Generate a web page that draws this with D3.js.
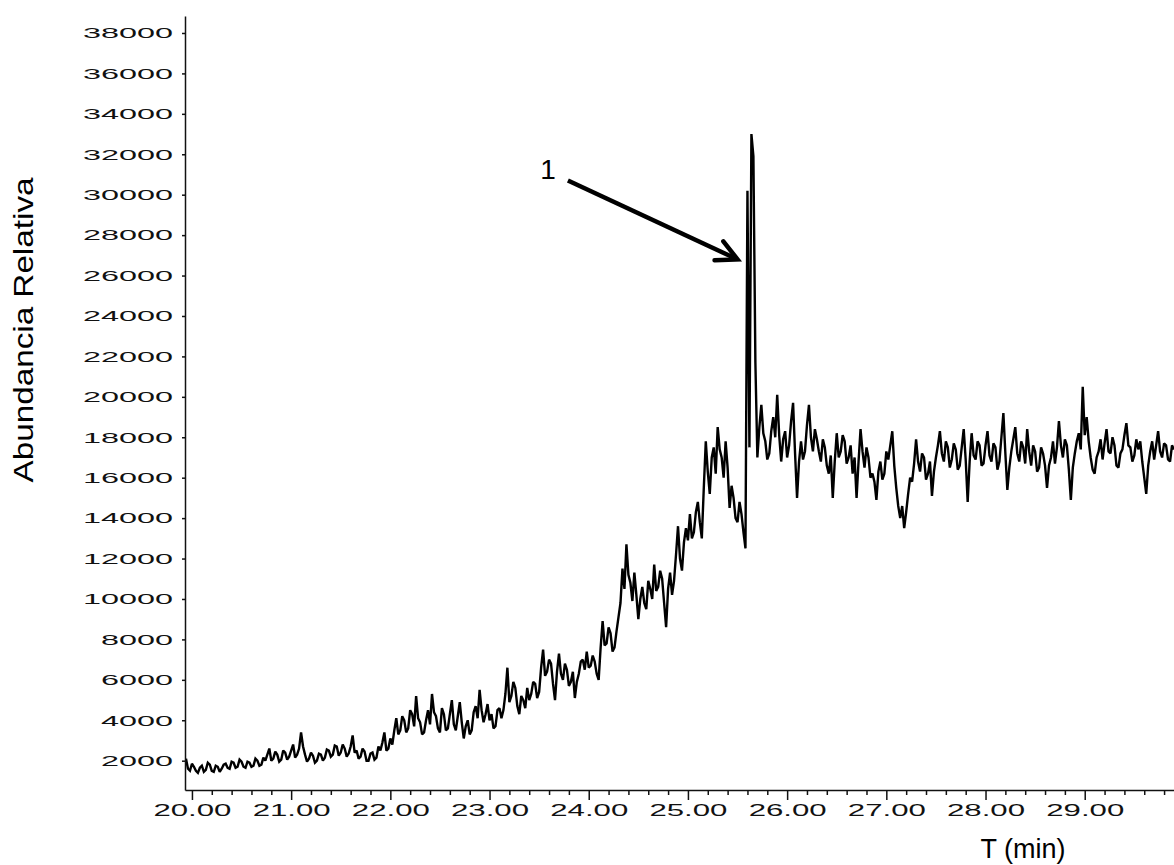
<!DOCTYPE html>
<html><head><meta charset="utf-8">
<script src="https://cdn.jsdelivr.net/npm/d3@7"></script>
<style>body{margin:0;background:#fff} svg{display:block}</style>
</head><body><svg id="c" width="1174" height="865"></svg>
<script>
// Acquisition: first scan time (min) and scan interval (min)
const scanStart = 19.94;
const scanInterval = 0.02;
// Abundance, one value per scan
const abundance = [
  2100,1600,1500,1850,1700,1500,1400,1650,1750,1450,1550,1900,1800,1500,1450,1750,1700,1450,1600,1800,
  1850,1650,1600,1950,1900,1650,1700,2050,1950,1700,1650,1950,1900,1700,1750,2100,2000,1750,1800,2150,
  2000,2300,2600,2000,2100,2450,2300,1950,2050,2500,2400,2050,2200,2500,2800,2150,2300,2600,3400,2700,
  2300,1950,2100,2400,2250,1900,2000,2350,2300,2000,2150,2550,2500,2200,2300,2750,2700,2250,2400,2800,
  2600,2200,2350,2700,3250,2400,2500,2100,2200,2600,2450,2000,2000,2350,2400,2050,2150,2700,2500,2900,
  3400,2500,2600,3100,2800,3500,4100,3300,3500,4200,4000,3400,3600,4500,4300,3700,5200,4100,3900,3300,
  3400,4000,4500,3800,5300,4400,4200,3600,3400,4600,4300,3500,3600,4300,5000,3800,3500,4200,4900,3900,
  3100,3700,4000,3300,3500,4400,4700,4100,5500,4500,3900,4300,4800,4000,4300,3600,3700,4500,4600,4100,
  4500,5300,6600,4900,5200,5900,5600,4700,4300,5200,5000,4600,5600,5000,5300,5900,5800,5100,5400,6600,
  7500,6200,6400,7000,6800,5800,5000,6400,7300,6300,6000,6800,6500,5700,5900,6400,5100,5900,6300,6900,
  7000,6500,7400,6600,6700,7200,6900,6300,6000,7600,8900,7700,7800,8600,8300,7400,7600,8400,9100,9800,
  11500,10500,12700,11200,10800,9900,11300,10200,9000,10000,10600,9800,9500,10900,10500,10000,11700,10400,10600,11400,
  11000,9800,8600,10500,11300,10200,10900,12200,13600,12000,11400,12800,13500,12900,14200,13000,13300,14300,14800,13800,
  13000,15500,17800,16300,15200,17000,17500,16200,18500,17400,17000,16000,17800,16500,14500,15600,15000,14000,13800,14800,
  14200,13300,12500,30200,17500,33000,31900,21700,17000,18500,19600,18200,17800,16900,17200,18300,19000,18000,20100,18100,
  16800,17900,18300,17000,17600,18800,19700,17200,15000,16800,17800,16900,17300,18600,19600,18000,17300,18400,17900,17300,
  16800,17900,17500,16600,16200,17100,15000,16800,18200,17000,17300,18100,17800,16700,17000,17600,16200,17000,15000,16800,
  18400,17300,16500,17500,17000,16000,16200,15800,14900,16300,16800,15900,16200,17300,16900,17600,18300,16600,15500,14600,
  14000,14600,13500,14300,15200,16000,15800,16700,17900,16800,16300,17200,17000,15900,16200,16800,15100,16300,17000,17600,
  18300,17200,16800,17800,17500,16500,16900,17700,17400,16400,16600,17500,18400,16900,14800,16800,18200,17100,16900,17800,
  17600,16600,16700,17600,18300,17100,16800,17700,17500,16400,16800,18000,19200,17200,15400,16500,17300,17900,18500,17200,
  16800,17800,17500,16700,18400,17300,16600,17600,17300,16300,16500,17500,17200,16600,15500,16600,17000,17800,16700,17500,
  18800,17600,17000,17900,17600,16400,14900,16500,17200,17800,18200,17400,20500,18100,19000,17800,17000,16400,16200,17000,
  17300,17900,16900,17700,18400,17300,17200,18000,17600,16600,16500,17200,17400,18100,18700,17600,17500,16800,17100,17900,
  17400,17800,16800,16000,15200,16600,17300,17800,16900,17600,18300,17300,17000,17700,17600,16900,16800,17600,17400
];
const xMajorTicks = [20, 21, 22, 23, 24, 25, 26, 27, 28, 29];
const yTicks = [2000, 4000, 6000, 8000, 10000, 12000, 14000, 16000, 18000, 20000,
  22000, 24000, 26000, 28000, 30000, 32000, 34000, 36000, 38000];
const xTitle = "T (min)";
const yTitle = "Abundancia Relativa";
// Annotation: label "1" and arrow pointing at the peak (time, abundance)
const peakLabel = "1";
const labelPos = [23.59, 30800];
const arrowStart = [23.79, 30700];
const arrowTip = [25.50, 26800];

const FONT = "'Liberation Sans', Arial, Helvetica, sans-serif";
const svg = d3.select("#c");
const x = d3.scaleLinear().domain([19.93, 29.9]).range([185, 1174]);
const y = d3.scaleLinear().domain([550, 38840]).range([790, 16]);

const data = abundance.map((v, i) => ({t: scanStart + i * scanInterval, v}));

svg.append("clipPath").attr("id", "plot").append("rect")
  .attr("x", 185).attr("y", 0).attr("width", 989).attr("height", 790);

// trace
svg.append("path").datum(data)
  .attr("clip-path", "url(#plot)")
  .attr("fill", "none").attr("stroke", "#000").attr("stroke-width", 2.4)
  .attr("stroke-linejoin", "miter").attr("stroke-miterlimit", 2)
  .attr("d", d3.line().x(d => x(d.t)).y(d => y(d.v)));

// x axis: minor ticks
const minor = d3.range(20.2, 29.95, 0.2).filter(t => Math.abs(t - Math.round(t)) > 0.05);
const gx = svg.append("g").attr("transform", "translate(0,790)");
gx.call(d3.axisBottom(x).tickValues(minor).tickSize(5).tickSizeOuter(0).tickFormat(""));
gx.selectAll(".tick line").attr("stroke", "#111").attr("stroke-width", 1.5);
gx.select(".domain").attr("stroke", "#111").attr("stroke-width", 1.5);
const gx2 = svg.append("g").attr("transform", "translate(0,790)");
gx2.call(d3.axisBottom(x).tickValues(xMajorTicks).tickSize(10).tickSizeOuter(0)
  .tickPadding(5).tickFormat(d3.format(".2f")));
gx2.select(".domain").remove();
gx2.selectAll(".tick line").attr("stroke", "#111").attr("stroke-width", 1.5);
gx2.selectAll(".tick text")
  .attr("font-family", FONT).attr("font-size", 16).attr("fill", "#111")
  .attr("textLength", 78).attr("lengthAdjust", "spacingAndGlyphs");

// y axis
const gy = svg.append("g").attr("transform", "translate(185,0)");
gy.call(d3.axisLeft(y).tickValues(yTicks).tickSize(3).tickSizeOuter(0).tickPadding(9)
  .tickFormat(d3.format("d")));
gy.select(".domain").attr("stroke", "#111").attr("stroke-width", 1.5);
gy.selectAll(".tick line").attr("stroke", "#111").attr("stroke-width", 1.5);
gy.selectAll(".tick text")
  .attr("font-family", FONT).attr("font-size", 15).attr("fill", "#111")
  .attr("textLength", d => String(d).length * 18).attr("lengthAdjust", "spacingAndGlyphs");

// titles
svg.append("text").text(xTitle)
  .attr("x", 1023).attr("y", 858).attr("text-anchor", "middle")
  .attr("font-family", FONT).attr("font-size", 27).attr("fill", "#000");
svg.append("text").text(yTitle)
  .attr("transform", "translate(33,330) rotate(-90)").attr("text-anchor", "middle")
  .attr("font-family", FONT).attr("font-size", 28).attr("fill", "#000")
  .attr("textLength", 305).attr("lengthAdjust", "spacingAndGlyphs");

// annotation
svg.append("text").text(peakLabel)
  .attr("x", x(labelPos[0])).attr("y", y(labelPos[1])).attr("text-anchor", "middle")
  .attr("font-family", FONT).attr("font-size", 28).attr("fill", "#000");
const sx = x(arrowStart[0]), sy = y(arrowStart[1]);
const tx = x(arrowTip[0]), ty = y(arrowTip[1]);
svg.append("line").attr("x1", sx).attr("y1", sy).attr("x2", tx - 3).attr("y2", ty - 1.4)
  .attr("stroke", "#000").attr("stroke-width", 4.5);
const ang = Math.atan2(ty - sy, tx - sx) + Math.PI;
const L = 23, spread = 27 * Math.PI / 180;
const w1 = [tx + L * Math.cos(ang - spread), ty + L * Math.sin(ang - spread)];
const w2 = [tx + L * Math.cos(ang + spread), ty + L * Math.sin(ang + spread)];
svg.append("path")
  .attr("d", `M${w1[0]},${w1[1]}L${tx},${ty}L${w2[0]},${w2[1]}`)
  .attr("fill", "none").attr("stroke", "#000").attr("stroke-width", 4.5)
  .attr("stroke-linejoin", "miter").attr("stroke-linecap", "round");
</script>
</body></html>
